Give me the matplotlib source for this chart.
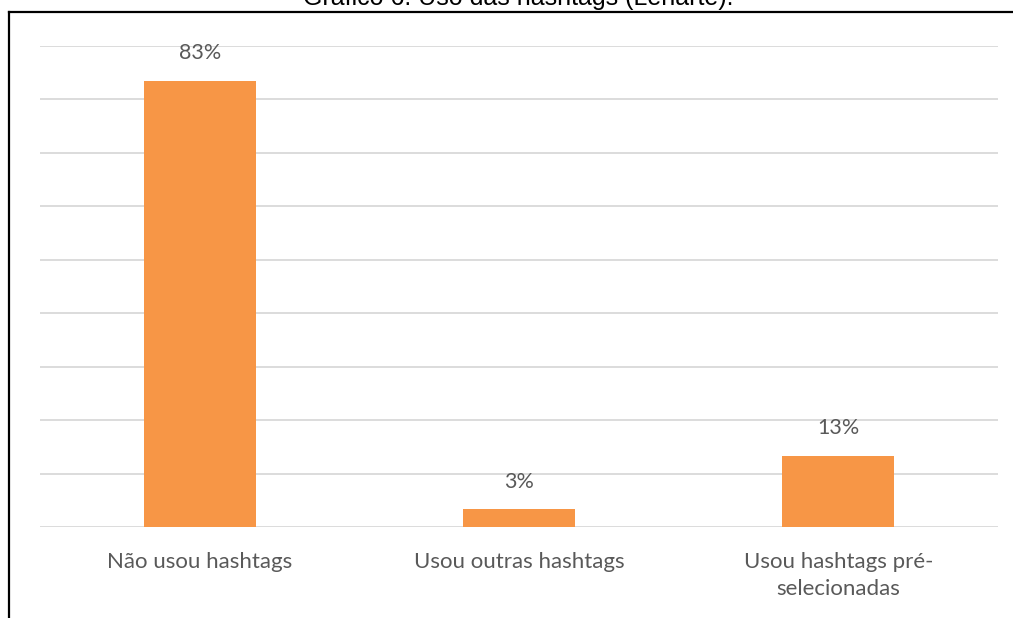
import matplotlib.pyplot as plt
from matplotlib.lines import Line2D

# Dados do gráfico
categorias = ["Não usou hashtags", "Usou outras hashtags", "Usou hashtags pré-\nselecionadas"]
percentuais = [83.4, 3.3, 13.3]
titulo = "Gráfico 6: Uso das hashtags (Lenarte)."

plt.rcParams['font.family'] = ['Lato', 'DejaVu Sans']

fig = plt.figure(figsize=(10.13, 6.18), dpi=100)
ax = fig.add_axes([40 / 1013, 1 - 527 / 618, 958 / 1013, (527 - 46) / 618])

x = range(len(categorias))
barras = ax.bar(x, percentuais, width=0.35, color="#F79646", zorder=3)

ax.set_xlim(-0.5, len(categorias) - 0.5)
ax.set_ylim(0, 90)
ax.set_yticks(range(0, 91, 10))
ax.yaxis.grid(True, color="#D9D9D9", linewidth=1.3, zorder=0)
ax.tick_params(axis='y', left=False, labelleft=False)
ax.tick_params(axis='x', length=0, pad=18, labelsize=16, labelcolor="#595959")
ax.set_xticks(list(x))
ax.set_xticklabels(categorias, linespacing=1.45)
for lado in ["top", "right", "left", "bottom"]:
    ax.spines[lado].set_visible(False)

# Rótulos de valores
for b, v in zip(barras, percentuais):
    ax.annotate(f"{v:.0f}%", (b.get_x() + b.get_width() / 2, v), xytext=(0, 20),
                textcoords="offset points", ha="center", va="center",
                fontsize=15.5, color="#595959")

# Moldura e título cortado
fig.add_artist(Line2D([9 / 1013, 1], [1 - 12 / 618, 1 - 12 / 618], color="black", linewidth=1.6))
fig.add_artist(Line2D([9 / 1013, 9 / 1013], [0, 1 - 12 / 618], color="black", linewidth=1.6))
fig.text(518 / 1013, 1 - 5 / 618, titulo, ha="center", va="baseline",
         fontsize=18, family="Liberation Sans", color="black")

fig.savefig("out.png", dpi=100)
